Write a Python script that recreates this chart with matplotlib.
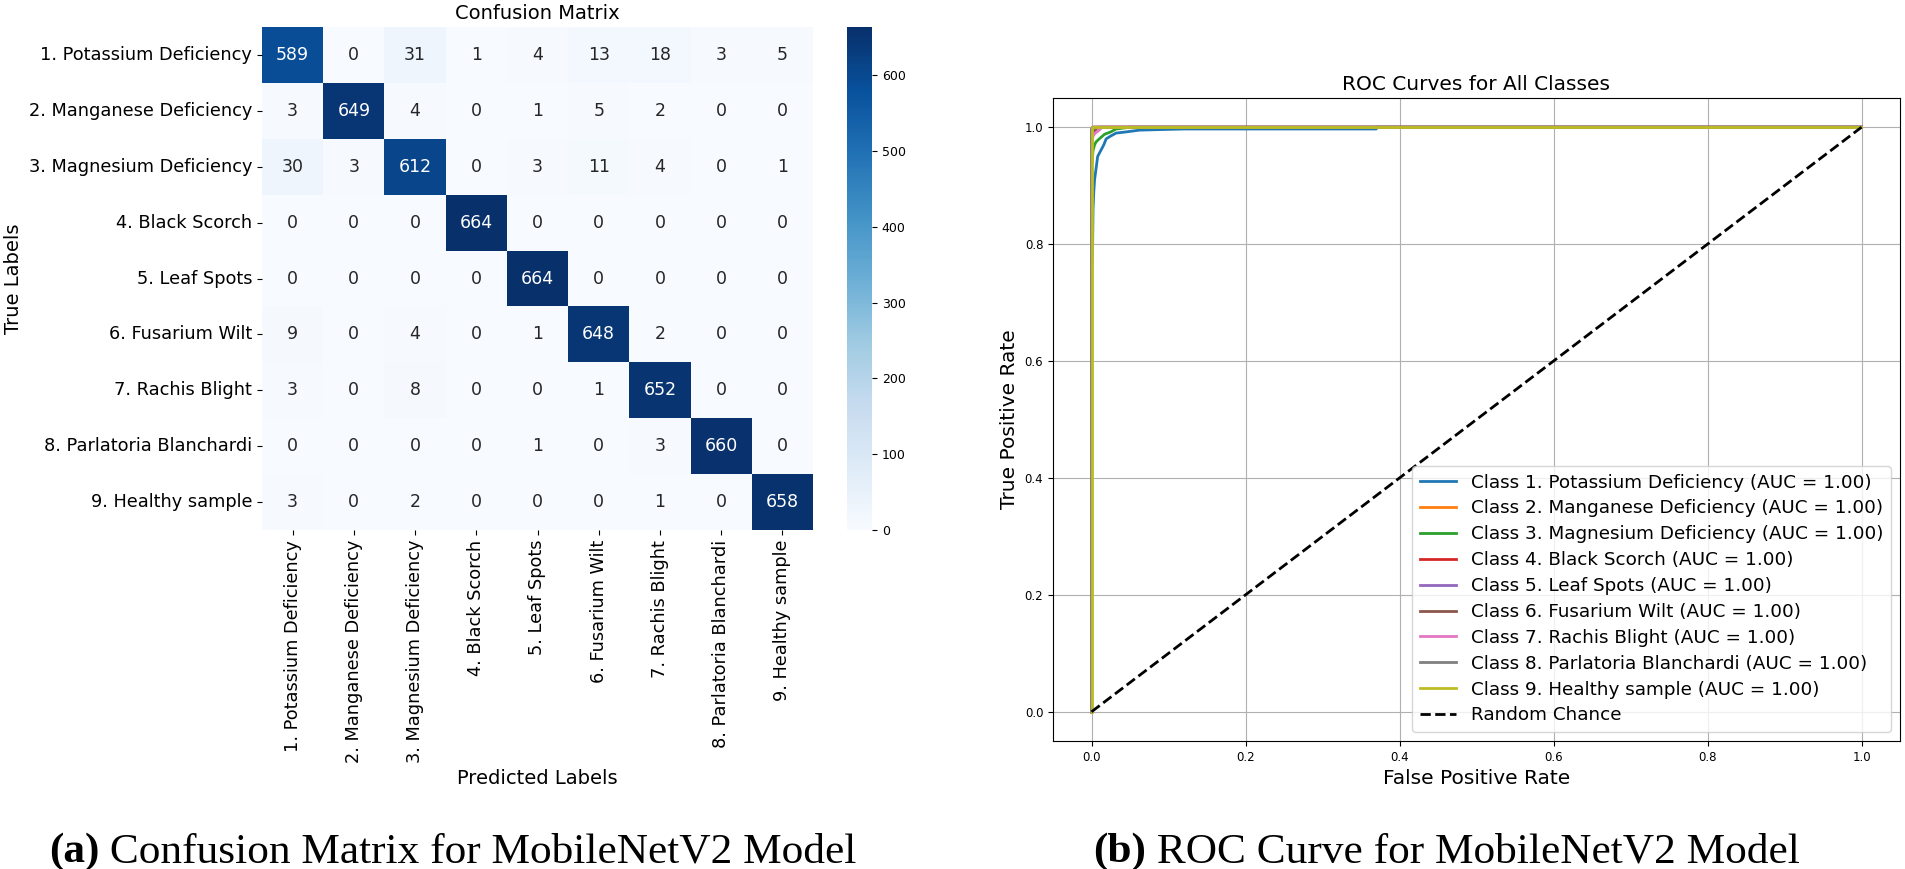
import numpy as np
import matplotlib
matplotlib.use('Agg')
import matplotlib.pyplot as plt
import seaborn as sns

class_names = ['1. Potassium Deficiency', '2. Manganese Deficiency', '3. Magnesium Deficiency',
               '4. Black Scorch', '5. Leaf Spots', '6. Fusarium Wilt', '7. Rachis Blight',
               '8. Parlatoria Blanchardi', '9. Healthy sample']

cm = np.array([
    [589, 0, 31, 1, 4, 13, 18, 3, 5],
    [3, 649, 4, 0, 1, 5, 2, 0, 0],
    [30, 3, 612, 0, 3, 11, 4, 0, 1],
    [0, 0, 0, 664, 0, 0, 0, 0, 0],
    [0, 0, 0, 0, 664, 0, 0, 0, 0],
    [9, 0, 4, 0, 1, 648, 2, 0, 0],
    [3, 0, 8, 0, 0, 1, 652, 0, 0],
    [0, 0, 0, 0, 1, 0, 3, 660, 0],
    [3, 0, 2, 0, 0, 0, 1, 0, 658],
])

# roc points (fpr, tpr)
fpr_1 = [0, 0, 0.0015, 0.002, 0.003, 0.004, 0.006, 0.008, 0.012, 0.016, 0.019, 0.025, 0.032, 0.045, 0.062, 0.09, 0.12, 0.37, 0.37, 1.0]
tpr_1 = [0, 0.75, 0.80, 0.86, 0.89, 0.91, 0.93, 0.95, 0.96, 0.97, 0.98, 0.985, 0.99, 0.992, 0.995, 0.996, 0.997, 0.997, 1.0, 1.0]
fpr_2 = [0, 0, 0.001, 0.003, 1.0]
tpr_2 = [0, 0.99, 0.997, 1.0, 1.0]
fpr_3 = [0, 0, 0.002, 0.004, 0.006, 0.01, 0.017, 0.025, 0.032, 0.05, 1.0]
tpr_3 = [0, 0.93, 0.96, 0.97, 0.975, 0.98, 0.988, 0.992, 0.997, 1.0, 1.0]
fpr_4 = [0, 0, 0.002, 1.0]
tpr_4 = [0, 0.995, 1.0, 1.0]
fpr_5 = [0, 0, 0.001, 1.0]
tpr_5 = [0, 0.997, 1.0, 1.0]
fpr_6 = [0, 0, 0.002, 0.005, 0.008, 1.0]
tpr_6 = [0, 0.985, 0.99, 0.995, 1.0, 1.0]
fpr_7 = [0, 0, 0.002, 0.005, 0.01, 0.014, 1.0]
tpr_7 = [0, 0.97, 0.985, 0.99, 0.995, 1.0, 1.0]
fpr_8 = [0, 0, 0.003, 1.0]
tpr_8 = [0, 0.995, 1.0, 1.0]
fpr_9 = [0, 0, 1.0]
tpr_9 = [0, 1.0, 1.0]
roc_fpr = [fpr_1, fpr_2, fpr_3, fpr_4, fpr_5, fpr_6, fpr_7, fpr_8, fpr_9]
roc_tpr = [tpr_1, tpr_2, tpr_3, tpr_4, tpr_5, tpr_6, tpr_7, tpr_8, tpr_9]
auc_vals = [1.00] * 9

W, H = 1905, 869
fig = plt.figure(figsize=(W / 100, H / 100), dpi=100)

def box(l, t, r, b):
    return [l / W, 1 - b / H, (r - l) / W, (b - t) / H]

ax = fig.add_axes(box(262, 27, 813, 530))
cax = fig.add_axes(box(847, 27, 872, 530))
sns.heatmap(cm, annot=True, fmt='d', cmap='Blues', ax=ax, cbar_ax=cax,
            xticklabels=class_names, yticklabels=class_names,
            annot_kws={'size': 12.5})
ax.set_title('Confusion Matrix', fontsize=14)
ax.set_xlabel('Predicted Labels', fontsize=14)
ax.set_ylabel('True Labels', fontsize=14)
ax.tick_params(axis='both', labelsize=12.8)
plt.setp(ax.get_xticklabels(), rotation=90)
plt.setp(ax.get_yticklabels(), rotation=0)
cax.tick_params(labelsize=9)

ax2 = fig.add_axes(box(1053, 98, 1900, 741))
for i in range(9):
    ax2.plot(roc_fpr[i], roc_tpr[i], lw=2,
             label=f'Class {class_names[i]} (AUC = {auc_vals[i]:.2f})')
ax2.plot([0, 1], [0, 1], 'k--', lw=2, label='Random Chance')
ax2.set_title('ROC Curves for All Classes', fontsize=14.5)
ax2.set_xlabel('False Positive Rate', fontsize=14.5)
ax2.set_ylabel('True Positive Rate', fontsize=14.5)
ax2.tick_params(labelsize=8.5)
ax2.grid(True)
ax2.legend(loc='lower right', fontsize=13.2, labelspacing=0.43)

# captions
cap_font = ['Liberation Serif', 'DejaVu Serif']
t1 = fig.text(49 / W, 7 / H, '(a)', fontsize=31.2, fontweight='bold', family=cap_font, va='baseline')
ax.annotate(' Confusion Matrix for MobileNetV2 Model', xy=(1, 0), xycoords=t1, fontsize=31.2,
            family=cap_font, va='bottom', annotation_clip=False)
t2 = fig.text(1093 / W, 7 / H, '(b)', fontsize=31.2, fontweight='bold', family=cap_font, va='baseline')
ax.annotate(' ROC Curve for MobileNetV2 Model', xy=(1, 0), xycoords=t2, fontsize=31.2,
            family=cap_font, va='bottom', annotation_clip=False)

fig.savefig('out.png', dpi=100)
